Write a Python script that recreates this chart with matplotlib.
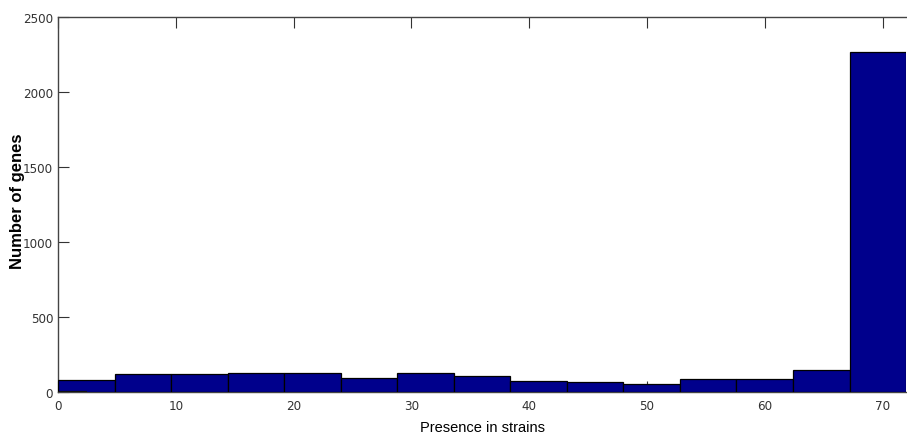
import numpy as np
import matplotlib
matplotlib.use('Agg')
import matplotlib.pyplot as plt

# histogram of gene presence across strains (15 bins over 0..72)
bin_edges = np.linspace(0, 72, 16)
gene_counts = [82, 120, 120, 127, 127, 91, 127, 104, 71, 64, 56, 85, 85, 147, 2265]

# a few genes found in no strain at all
zero_edges = [0, 2.4]
zero_counts = [8]

x_ticks = [0, 10, 20, 30, 40, 50, 60, 70]
y_ticks = [0, 500, 1000, 1500, 2000, 2500]

fig = plt.figure(figsize=(9.07, 4.39), dpi=100)
ax = fig.add_axes([0.064, 0.105, 0.935, 0.854])

ax.bar(bin_edges[:-1], gene_counts, width=np.diff(bin_edges), align='edge',
       color='#00008c', edgecolor='black', linewidth=0.9, zorder=3)
ax.bar(zero_edges[:-1], zero_counts, width=np.diff(zero_edges), align='edge',
       color='#111111', edgecolor='#111111', linewidth=0.8, zorder=4)

ax.set_xlim(0, 72)
ax.set_ylim(0, 2500)
ax.set_xticks(x_ticks)
ax.set_yticks(y_ticks)
ax.set_axisbelow(True)
ax.tick_params(direction='in', length=8, width=0.8, color='#333333',
               top=True, right=False, labelsize=9.5, labelcolor='#333333')
ax.tick_params(axis='x', pad=5)
for lbl in ax.get_xticklabels() + ax.get_yticklabels():
    lbl.set_fontfamily('DejaVu Sans')
    lbl.set_fontstretch('condensed')

for side in ['left', 'bottom', 'top']:
    ax.spines[side].set_color('#444444')
    ax.spines[side].set_linewidth(1.0)
ax.spines['right'].set_visible(False)

ax.set_xlabel('Presence in strains', fontsize=10.5, family='Liberation Sans',
              labelpad=6)
ax.set_ylabel('Number of genes', fontsize=12, family='Liberation Sans',
              fontweight='bold')
ax.yaxis.set_label_coords(-0.039, 0.51)

fig.savefig('out.png', dpi=100)
